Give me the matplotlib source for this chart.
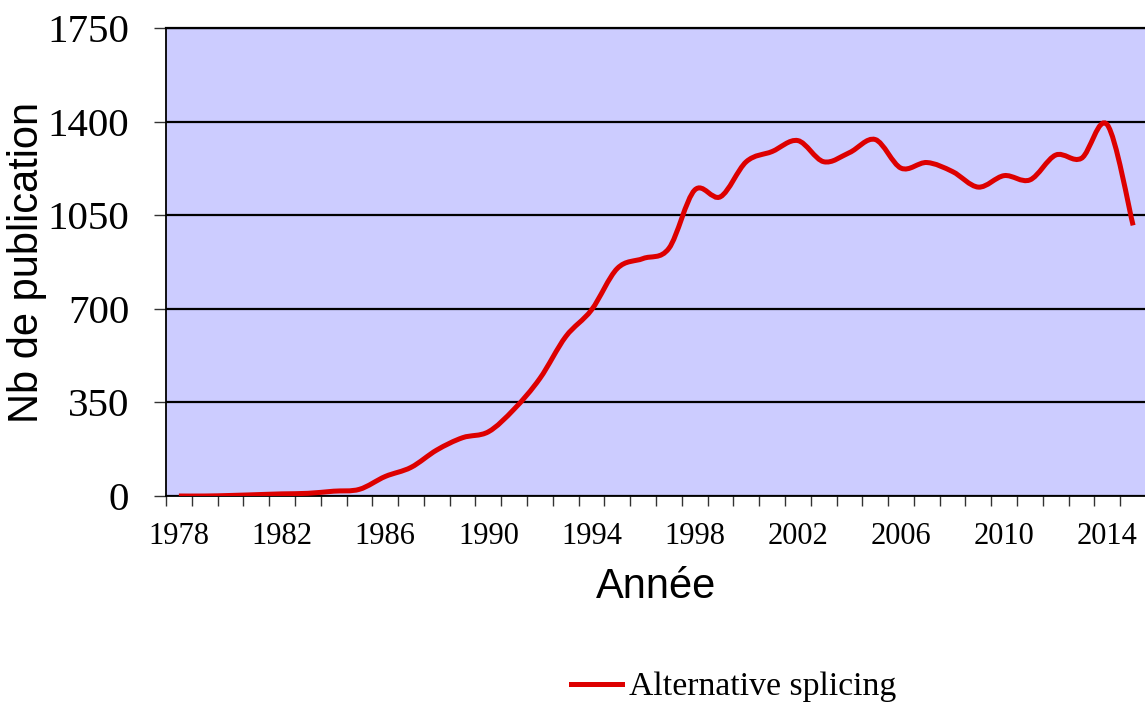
"""Publications per year on alternative splicing, Excel-style smoothed line."""
import numpy as np
import matplotlib
matplotlib.use("Agg")
import matplotlib.pyplot as plt
from matplotlib.path import Path
from matplotlib.patches import PathPatch
from matplotlib.lines import Line2D

years = list(range(1978, 2016))
publications = [0, 0, 2, 5, 8, 10, 18, 25, 73, 107, 172, 218, 240, 325, 440,
                596, 696, 851, 888, 926, 1144, 1119, 1250, 1288, 1329, 1250,
                1284, 1333, 1226, 1247, 1213, 1155, 1198, 1182, 1275, 1263,
                1388, 1012]
year_labels = years[::4]
y_ticks = [0, 350, 700, 1050, 1400, 1750]
series_name = "Alternative splicing"

RED = "#DD0000"
BG = "#CCCCFF"


def smooth_path(x, y):
    # cubic bezier through the points, like excel's "smoothed line"
    pts = np.column_stack([x, y]).astype(float)
    ext = np.vstack([pts[0], pts, pts[-1]])
    verts = [pts[0]]
    codes = [Path.MOVETO]
    for i in range(len(pts) - 1):
        p0, p1, p2, p3 = ext[i], ext[i + 1], ext[i + 2], ext[i + 3]
        verts += [p1 + (p2 - p0) / 6, p2 - (p3 - p1) / 6, p2]
        codes += [Path.CURVE4] * 3
    return Path(verts, codes)


fig = plt.figure(figsize=(11.45, 7.04), dpi=100)
ax = fig.add_axes([166 / 1145, 1 - 496 / 704, 980 / 1145, 468 / 704])
ax.set_facecolor(BG)

ax.add_patch(PathPatch(smooth_path(years, publications), fill=False,
                       edgecolor=RED, lw=3.6, capstyle="butt", zorder=3))

ax.set_xlim(1977.5, 2015.5)
ax.set_ylim(0, 1750)

ax.set_yticks(y_ticks)
ax.set_yticklabels([str(v) for v in y_ticks], family="Liberation Serif",
                   fontsize=29.5)
ax.tick_params(axis="y", direction="out", length=8.5, width=1, color="#333333",
               pad=18)
ax.yaxis.grid(True, color="black", lw=1.6)
ax.set_axisbelow(True)

ax.set_xticks(year_labels)
ax.set_xticklabels([str(v) for v in year_labels], family="Liberation Serif",
                   fontsize=22)
ax.set_xticks(np.arange(1977.5, 2016, 1), minor=True)
ax.tick_params(axis="x", which="major", length=0, pad=19)
ax.tick_params(axis="x", which="minor", direction="out", length=7, width=1,
               color="#333333")

for side in ["left", "bottom", "top"]:
    ax.spines[side].set_color("black")
    ax.spines[side].set_linewidth(1.3)
ax.spines["top"].set_linewidth(1.6)
ax.spines["right"].set_visible(False)

ax.set_ylabel("Nb de publication", family="Liberation Sans", fontsize=30)
ax.yaxis.set_label_coords(-0.121, 0.5)
fig.text(656 / 1145, 1 - 598 / 704, "Année", family="Liberation Sans",
         fontsize=30, ha="center", va="baseline")

handle = Line2D([], [], color=RED, lw=3.6)
fig.legend([handle], [series_name], loc="center left",
           bbox_to_anchor=(571 / 1145, 1 - 687 / 704), frameon=False,
           prop={"family": "Liberation Serif", "size": 24.3},
           handlelength=1.5, handletextpad=0.22, borderpad=0, borderaxespad=0)

fig.savefig("out.png", dpi=100)
